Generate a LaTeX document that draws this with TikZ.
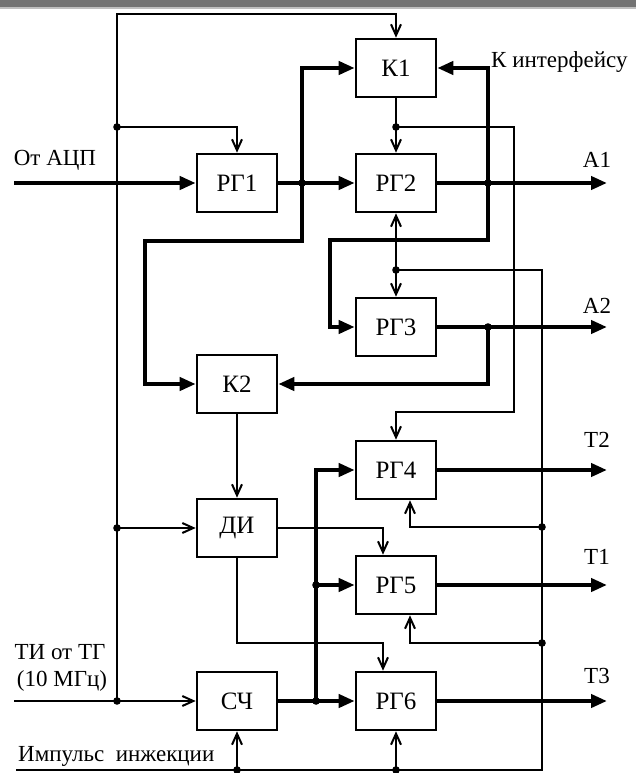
\documentclass[tikz,border=0pt]{standalone}
\usepackage{fontspec}
\setmainfont{Liberation Serif}
\usetikzlibrary{arrows.meta}
\begin{document}
\begin{tikzpicture}[x=1pt,y=-1pt,
  blk/.style={draw,line width=2.6pt,minimum width=80pt,minimum height=58pt,inner sep=0pt,font=\fontsize{25}{27}\selectfont},
  lbl/.style={font=\fontsize{23}{25}\selectfont,inner sep=0pt},
  thinln/.style={line width=2pt},
  boldln/.style={line width=4.2pt},
  oarr/.style={-{Straight Barb[length=11pt,width=10pt,line width=2pt]}},
  farr/.style={-{Triangle[length=16pt,width=13pt]}}
]
\useasboundingbox (0,0) rectangle (636,773);
\fill[black!55] (0,0) rectangle (636,7);
\fill[black!25] (0,7) rectangle (636,9);

% blocks
\node[blk] (K1)  at (396,68)  {К1};
\node[blk] (RG1) at (237,183) {РГ1};
\node[blk] (RG2) at (396,183) {РГ2};
\node[blk] (RG3) at (396,327) {РГ3};
\node[blk] (K2)  at (237,384) {К2};
\node[blk] (RG4) at (396,470) {РГ4};
\node[blk] (DI)  at (237,528) {ДИ};
\node[blk] (RG5) at (396,585) {РГ5};
\node[blk] (SCH) at (237,701) {СЧ};
\node[blk] (RG6) at (396,701) {РГ6};

% coordinates
\coordinate (tl) at (117,14);
\coordinate (tr) at (396,14);
\coordinate (j1) at (117,127);
\coordinate (j2) at (117,528);
\coordinate (j3) at (117,701);
\coordinate (jA) at (302,183);
\coordinate (jB) at (488,183);
\coordinate (jC) at (488,327);
\coordinate (jK) at (396,127);
\coordinate (jM) at (396,270);
\coordinate (jR4) at (542,527);
\coordinate (jR5) at (542,643);
\coordinate (jS5) at (316,585);
\coordinate (jS6) at (316,701);
\coordinate (jb1) at (237,770);
\coordinate (jb2) at (396,770);
\coordinate (inADC) at (14,183);
\coordinate (inTI) at (14,701);
\coordinate (inImp) at (16,770);
\coordinate (oA1) at (607,183);
\coordinate (oA2) at (607,327);
\coordinate (oT2) at (607,470);
\coordinate (oT1) at (607,585);
\coordinate (oT3) at (607,701);

% thin connectors
\draw[thinln,oarr] (j3) -- (tl) -- (tr) -- (K1.north);
\draw[thinln,oarr] (j1) -| (RG1.north);
\draw[thinln] (K1.south) -- (jK);
\draw[thinln,oarr] (jK) -- (RG2.north);
\draw[thinln,oarr] (jK) -- (514,127) -- (514,412) -| (RG4.north);
\draw[thinln,oarr] (jM) -- (RG2.south);
\draw[thinln,oarr] (jM) -- (RG3.north);
\draw[thinln] (jM) -- (542,270) -- (542,770) -- (inImp);
\draw[thinln,oarr] (jR4) -| ([xshift=14pt]RG4.south);
\draw[thinln,oarr] (jR5) -| ([xshift=14pt]RG5.south);
\draw[thinln,oarr] (jb1) -- (SCH.south);
\draw[thinln,oarr] (jb2) -- (RG6.south);
\draw[thinln,oarr] (K2.south) -- (DI.north);
\draw[thinln,oarr] (j2) -- (DI.west);
\draw[thinln,oarr] (DI.east) -| ([xshift=-13pt]RG5.north);
\draw[thinln,oarr] (DI.south) -- (237,643) -| ([xshift=-13pt]RG6.north);
\draw[thinln,oarr] (inTI) -- (SCH.west);

% bold connectors
\draw[boldln,farr] (inADC) -- (RG1.west);
\draw[boldln,farr] (RG1.east) -- (RG2.west);
\draw[boldln,farr] (jA) |- (K1.west);
\draw[boldln,farr] (jA) -- (302,241) -- (145,241) |- (K2.west);
\draw[boldln,farr] (RG2.east) -- (oA1);
\draw[boldln,farr] (jB) |- (K1.east);
\draw[boldln,farr] (jB) -- (488,240) -- (330,240) |- (RG3.west);
\draw[boldln,farr] (RG3.east) -- (oA2);
\draw[boldln,farr] (jC) |- (K2.east);
\draw[boldln,farr] (SCH.east) -- (RG6.west);
\draw[boldln,farr] (jS6) |- (RG4.west);
\draw[boldln,farr] (jS5) -- (RG5.west);
\draw[boldln,farr] (RG4.east) -- (oT2);
\draw[boldln,farr] (RG5.east) -- (oT1);
\draw[boldln,farr] (RG6.east) -- (oT3);

% junction dots
\foreach \p in {j1,j2,j3,jA,jB,jC,jK,jM,jR4,jR5,jS5,jS6,jb1,jb2}
  \fill (\p) circle (3.8pt);

% labels
\node[lbl] (tADC) at (55,160) {От АЦП};
\node[lbl,anchor=west] (tInt) at (491,62) {К интерфейсу};
\node[lbl] (tA1) at (597,160) {А1};
\node[lbl] (tA2) at (597,306) {А2};
\node[lbl] (tT2) at (597,440) {Т2};
\node[lbl] (tT1) at (597,557) {Т1};
\node[lbl] (tT3) at (597,676) {Т3};
\node[lbl] (tTI) at (60,652) {ТИ от ТГ};
\node[lbl] (tMHz) at (62,681) {(10 МГц)};
\node[lbl,anchor=west] (tImp) at (18,756) {Импульс\hspace{0.5em}инжекции};
\end{tikzpicture}
\end{document}
